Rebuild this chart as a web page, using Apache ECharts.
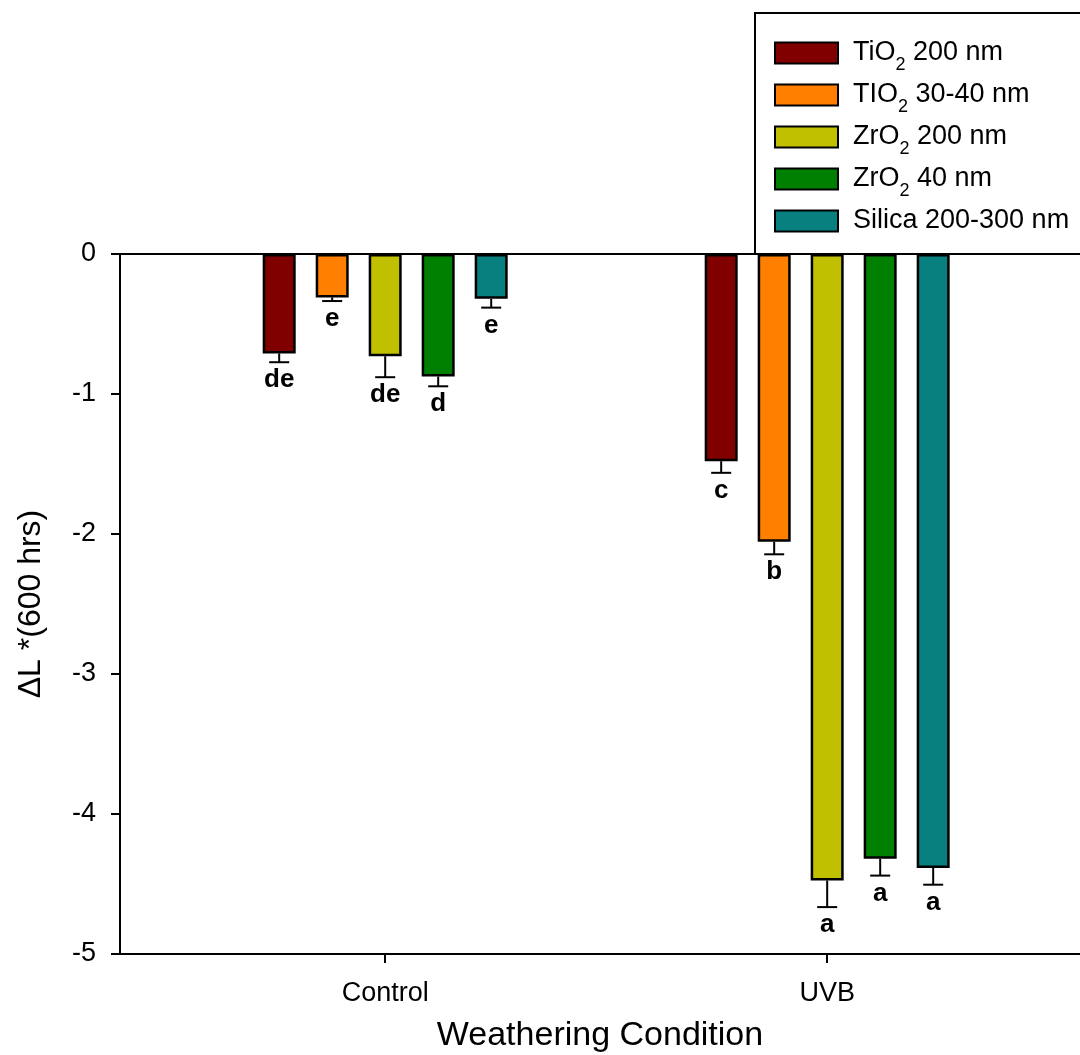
<!DOCTYPE html>
<html><head><meta charset="utf-8">
<script src="https://cdn.jsdelivr.net/npm/echarts@6/dist/echarts.min.js"></script>
<style>html,body{margin:0;padding:0;background:#fff}#c{width:1080px;height:1055px}</style>
</head><body><div id="c"></div>
<script>
// ---- data ----
const categories = ['Control', 'UVB'];
const seriesNames = ['TiO2 200 nm', 'TIO2 30-40 nm', 'ZrO2 200 nm', 'ZrO2 40 nm', 'Silica 200-300 nm'];
const legendLabels = ['{g| }TiO{s|2} 200 nm', '{g| }TIO{s|2} 30-40 nm', '{g| }ZrO{s|2} 200 nm', '{g| }ZrO{s|2} 40 nm', '{g| }Silica 200-300 nm{s| }'];
const tio2_200   = [-0.71, -1.48];
const tio2_3040  = [-0.31, -2.055];
const zro2_200   = [-0.73, -4.475];
const zro2_40    = [-0.875, -4.32];
const silica     = [-0.32, -4.385];
const err_tio2_200  = [0.063, 0.083];
const err_tio2_3040 = [0.026, 0.09];
const err_zro2_200  = [0.15, 0.19];
const err_zro2_40   = [0.07, 0.12];
const err_silica    = [0.063, 0.12];
const let_tio2_200  = ['de', 'c'];
const let_tio2_3040 = ['e', 'b'];
const let_zro2_200  = ['de', 'a'];
const let_zro2_40   = ['d', 'a'];
const let_silica    = ['e', 'a'];
const yTickValues = [0, -1, -2, -3, -4, -5];

const values = [tio2_200, tio2_3040, zro2_200, zro2_40, silica];
const errors = [err_tio2_200, err_tio2_3040, err_zro2_200, err_zro2_40, err_silica];
const letters = [let_tio2_200, let_tio2_3040, let_zro2_200, let_zro2_40, let_silica];
const colors = ['#800000', '#ff8000', '#c0c000', '#008000', '#088080'];

const FONT = 'Arial, "Liberation Sans", sans-serif';
const BAR_W = 33, BAR_GAP = 20, STEP = BAR_W + BAR_GAP;

const barSeries = seriesNames.map((name, s) => ({
  name: name,
  type: 'bar',
  barWidth: BAR_W,
  barGap: (BAR_GAP / BAR_W * 100).toFixed(1) + '%',
  itemStyle: { color: colors[s], borderColor: '#000', borderWidth: 2.5 },
  data: categories.map((c, i) => [i + 1, values[s][i]])
}));

const errData = [];
seriesNames.forEach((n, s) => categories.forEach((c, i) => {
  errData.push({ value: [i + 1, s, values[s][i], errors[s][i]], letter: letters[s][i] });
}));

const errSeries = {
  type: 'custom',
  data: errData.map(d => d.value),
  encode: { x: 0, y: 2 },
  z: 5,
  silent: true,
  renderItem: function (params, api) {
    const cat = api.value(0), s = api.value(1), v = api.value(2), e = api.value(3);
    const p0 = api.coord([cat, v]);
    const p1 = api.coord([cat, v - e]);
    const x = p0[0] + (s - 2) * STEP;
    const txt = errData[params.dataIndex].letter;
    return {
      type: 'group',
      children: [
        { type: 'line', shape: { x1: x, y1: p0[1], x2: x, y2: p1[1] }, style: { stroke: '#000', lineWidth: 2 } },
        { type: 'line', shape: { x1: x - 10, y1: p1[1], x2: x + 10, y2: p1[1] }, style: { stroke: '#000', lineWidth: 2 } },
        { type: 'text', x: x, y: p1[1] + 31,
          style: { text: txt, fill: '#000', font: 'bold 26px ' + FONT, align: 'center', verticalAlign: 'bottom', textAlign: 'center', textVerticalAlign: 'bottom' } }
      ]
    };
  }
};

const chart = echarts.init(document.getElementById('c'), null, { renderer: 'canvas' });
chart.setOption({
  animation: false,
  backgroundColor: '#fff',
  grid: { left: 120, right: 0, top: 254, bottom: 101, containLabel: false, outerBoundsMode: 'none' },
  legend: {
    orient: 'vertical',
    left: 774,
    top: 38,
    padding: 0,
    itemGap: 6,
    itemWidth: 63,
    itemHeight: 21,
    icon: 'rect',
    data: seriesNames,
    formatter: function (name) { return legendLabels[seriesNames.indexOf(name)]; },
    textStyle: {
      fontFamily: FONT, fontSize: 27, color: '#000', lineHeight: 30,
      rich: {
        g: { width: 10, fontSize: 27, lineHeight: 30, verticalAlign: 'top' },
        s: { fontSize: 18, lineHeight: 18, fontFamily: FONT, color: '#000', padding: [18, 0, 0, 0], verticalAlign: 'top' }
      }
    }
  },
  graphic: [{
    type: 'rect', z: 100, silent: true,
    shape: { x: 755, y: 13, width: 400, height: 241 },
    style: { fill: 'none', stroke: '#000', lineWidth: 2 }
  }],
  xAxis: [{
    type: 'value',
    position: 'bottom',
    min: 0.4, max: 2.572,
    name: 'Weathering Condition',
    nameLocation: 'middle',
    nameGap: 65,
    nameTextStyle: { fontFamily: FONT, fontSize: 34, color: '#000' },
    axisLine: { show: true, onZero: false, lineStyle: { color: '#000', width: 2 } },
    axisTick: { show: true, length: 9, inside: false, customValues: [1, 2], lineStyle: { color: '#000', width: 2 } },
    axisLabel: { show: true, margin: 26, customValues: [1, 2], fontFamily: FONT, fontSize: 27, color: '#000',
      formatter: function (v) { return categories[Math.round(v) - 1] || ''; } },
    splitLine: { show: false }
  }, {
    type: 'value',
    position: 'top',
    min: 0.4, max: 2.572,
    axisLine: { show: true, onZero: false, lineStyle: { color: '#000', width: 2 } },
    axisTick: { show: false },
    axisLabel: { show: false },
    splitLine: { show: false }
  }],
  yAxis: {
    type: 'value',
    min: -5, max: 0, interval: 1,
    name: 'ΔL *(600 hrs)',
    nameLocation: 'middle',
    nameGap: 73,
    nameTextStyle: { fontFamily: FONT, fontSize: 32, color: '#000' },
    axisLine: { show: true, lineStyle: { color: '#000', width: 2 } },
    axisTick: { show: true, length: 9, inside: false, lineStyle: { color: '#000', width: 2 } },
    axisLabel: { margin: 24, fontFamily: FONT, fontSize: 27, color: '#000',
      formatter: function (v) { return String(v); } },
    splitLine: { show: false }
  },
  series: barSeries.concat([errSeries])
});
</script>
</body></html>
